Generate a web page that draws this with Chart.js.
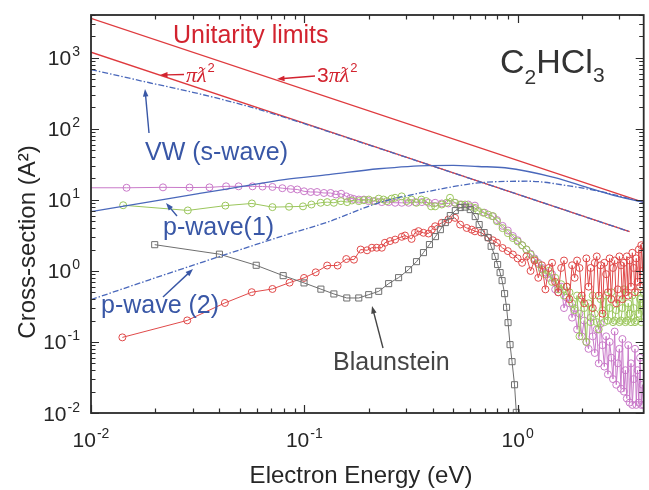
<!DOCTYPE html>
<html>
<head>
<meta charset="utf-8">
<script src="https://cdn.jsdelivr.net/npm/chart.js@4.4.1/dist/chart.umd.min.js"></script>
<style>
  body { margin: 0; background: #fff; }
  #wrap { width: 649px; height: 490px; }
</style>
</head>
<body>
<div id="wrap"><canvas id="xsChart" width="649" height="490"></canvas></div>
<script>
// axis ranges and tick labels
const xRange = [0.01, 3.9];
const yRange = [0.01, 4000];
const xDecades = [0.01, 0.1, 1];
const xTickExp = ['-2', '-1', '0'];
const yDecades = [0.01, 0.1, 1, 10, 100, 1000];
const yTickExp = ['-2', '-1', '0', '1', '2', '3'];

// unitarity limits
const piLambdaE = [0.01, 3.35];
const piLambdaS = [1197, 3.57];
const threePiLambdaE = [0.01, 3.9];
const threePiLambdaS = [3591, 9.2];

// VW (s-wave), dash-dot
const vwE = [0.01, 0.0188, 0.03, 0.0552, 0.1, 0.2, 0.5, 1, 2, 3.35];
const vwS = [684, 445, 327, 205, 118, 59.5, 23.9, 12.0, 5.98, 3.57];

// p-wave(1), solid blue
const pw1E = [0.01, 0.0188, 0.0323, 0.0496, 0.0804, 0.1304, 0.2232, 0.382, 0.5, 0.653, 0.873, 1.495, 2.13, 2.94, 3.89];
const pw1S = [6.84, 9.4, 12.3, 15.2, 19.3, 22.7, 27.4, 30.4, 30.5, 29.5, 28.3, 20.6, 14.9, 11.2, 9.25];

// p-wave (2), dash-dot blue
const pw2E = [0.01, 0.0188, 0.0323, 0.0804, 0.1304, 0.2232, 0.425, 0.653, 1.118, 1.775, 2.56, 3.89];
const pw2S = [0.394, 0.75, 1.29, 3.15, 4.94, 9.08, 14.0, 17.3, 18.3, 15.6, 12.7, 9.25];

// measured sets, low-energy part
const magentaE = [0.0085, 0.01468, 0.02175, 0.02897, 0.03592, 0.04298, 0.0492, 0.0572, 0.0637, 0.0709, 0.0789,
  0.0864, 0.0927, 0.0997, 0.1072, 0.1147, 0.1236, 0.1328, 0.1406, 0.1488, 0.1573, 0.1644, 0.1702, 0.18,
  0.1903, 0.2004, 0.2149, 0.2308, 0.2485, 0.2666, 0.2863, 0.3081, 0.3311, 0.3557, 0.382, 0.4105, 0.4411,
  0.4735, 0.5088, 0.5465, 0.587, 0.6307, 0.70, 0.76];
const magentaS = [14.8, 14.8, 15.0, 14.9, 15.0, 15.5, 15.5, 15.5, 15.4, 15.2, 14.6,
  14.2, 14.0, 13.2, 12.9, 12.9, 12.5, 12.5, 11.9, 12.2, 11.2, 10.6, 10.3, 10.1,
  10.1, 9.6, 9.6, 9.3, 9.3, 9.1, 9.1, 9.1, 9.3, 9.3, 9.1, 9.1, 8.9,
  8.9, 9.1, 8.6, 8.6, 8.3, 6.6, 5.9];

const greenE = [0.01415, 0.02844, 0.04266, 0.0568, 0.0709, 0.0848, 0.0986, 0.108, 0.1193, 0.128, 0.1376,
  0.1485, 0.1587, 0.1672, 0.18, 0.1903, 0.2004, 0.211, 0.2232, 0.2352, 0.2435, 0.2567, 0.2663, 0.2861,
  0.3017, 0.318, 0.3354, 0.3536, 0.3728, 0.393, 0.4105, 0.4411, 0.465, 0.4819, 0.5088, 0.5377, 0.5669,
  0.5976, 0.6307, 0.6536, 0.6888, 0.7277, 0.7669];
const greenS = [8.4, 7.1, 8.3, 8.9, 7.9, 8.0, 8.1, 8.6, 9.1, 9.3, 9.1,
  9.6, 9.3, 9.8, 9.6, 9.9, 10.1, 9.6, 10.4, 10.1, 9.6, 10.4, 10.7, 11.2,
  9.6, 10.1, 9.1, 10.1, 9.6, 8.1, 8.1, 8.6, 9.1, 10.7, 9.1, 8.6, 8.6,
  8.1, 7.7, 7.0, 6.6, 6.2, 5.9];

const redE = [0.01403, 0.02826, 0.04242, 0.0567, 0.0709, 0.0853, 0.0997, 0.1131, 0.128, 0.1433, 0.1573,
  0.1709, 0.1837, 0.1969, 0.2074, 0.2186, 0.2308, 0.2388, 0.2523, 0.2666, 0.2863, 0.2966, 0.3183, 0.3301,
  0.343, 0.3619, 0.382, 0.3961, 0.4105, 0.4411, 0.4735, 0.5088, 0.5377, 0.5773, 0.6093, 0.6307, 0.6754,
  0.7277, 0.765];
const redS = [0.116, 0.201, 0.354, 0.502, 0.557, 0.684, 0.796, 0.955, 1.19, 1.19, 1.47,
  1.44, 2.0, 1.95, 2.12, 2.12, 2.12, 2.49, 2.63, 2.76, 3.02, 3.15, 2.82, 3.44,
  3.63, 3.44, 3.36, 3.81, 4.25, 4.75, 5.28, 5.58, 4.49, 4.02, 3.81, 3.61, 3.46,
  2.94, 2.7];

// measured sets, high-energy part (shared energy grid)
const hiE = [0.80, 0.85, 0.90, 0.95, 1.00, 1.05, 1.10, 1.15, 1.20, 1.25, 1.30, 1.35, 1.40, 1.45, 1.50,
  1.55, 1.60, 1.65, 1.70, 1.75, 1.80, 1.85, 1.90, 1.95, 2.00, 2.05, 2.10, 2.15, 2.20, 2.25, 2.30,
  2.35, 2.40, 2.45, 2.50, 2.55, 2.60, 2.65, 2.70, 2.75, 2.80, 2.85, 2.90, 2.95, 3.00, 3.05, 3.10,
  3.15, 3.20, 3.25, 3.30, 3.35, 3.40, 3.45, 3.50, 3.55, 3.60, 3.65, 3.70, 3.75, 3.80, 3.85, 3.90];
const magentaHiS = [5.2, 4.3, 3.7, 3.1, 2.7, 2.3, 2.0, 1.75, 1.5, 1.3, 1.1, 0.95, 0.8, 0.9, 0.55,
  0.5, 0.6, 0.3, 0.42, 0.35, 0.22, 0.3, 0.15, 0.25, 0.12, 0.2, 0.1, 0.08, 0.22, 0.12, 0.07,
  0.15, 0.05, 0.18, 0.09, 0.045, 0.12, 0.035, 0.1, 0.06, 0.03, 0.14, 0.025, 0.05, 0.08, 0.022, 0.11,
  0.02, 0.04, 0.016, 0.09, 0.014, 0.05, 0.013, 0.03, 0.08, 0.013, 0.04, 0.014, 0.06, 0.013, 0.025, 0.013];
const greenHiS = [5.0, 4.0, 3.4, 2.9, 2.6, 2.3, 2.0, 1.7, 1.45, 1.25, 1.05, 0.9, 1.0, 0.7, 0.8,
  0.55, 0.65, 0.45, 0.6, 0.5, 0.35, 0.28, 0.45, 0.12, 0.4, 0.3, 0.1, 0.35, 0.19, 0.45, 0.25,
  0.19, 0.15, 0.4, 0.28, 0.19, 0.45, 0.2, 0.3, 0.5, 0.19, 0.2, 0.28, 0.4, 0.19, 0.2, 0.3,
  0.55, 0.19, 0.2, 0.35, 0.25, 0.19, 0.45, 0.3, 0.19, 0.2, 0.5, 0.25, 0.4, 0.19, 0.35, 0.5];
const redHiS = [2.5, 2.1, 1.9, 1.7, 1.5, 1.3, 1.6, 1.0, 1.4, 0.8, 1.2, 0.55, 1.1, 1.3, 0.7,
  0.5, 1.1, 1.4, 0.6, 0.4, 1.2, 0.8, 1.4, 1.1, 0.45, 0.35, 1.5, 0.6, 1.1, 0.3, 1.3,
  1.6, 0.45, 1.2, 0.25, 1.3, 0.9, 0.5, 1.5, 0.4, 1.1, 1.4, 0.35, 0.55, 1.6, 1.2, 0.4,
  1.3, 0.5, 1.6, 0.45, 1.4, 0.6, 1.8, 1.1, 0.5, 1.5, 0.7, 2.0, 0.6, 2.3, 1.0, 2.2];

// Blaunstein
const blaunE = [0.01989, 0.04, 0.0595, 0.0796, 0.0997, 0.1196, 0.1376, 0.1582, 0.18, 0.2004, 0.2232,
  0.2485, 0.2767, 0.3081, 0.3357, 0.3619, 0.386, 0.4118, 0.4344, 0.4583, 0.4836, 0.5104, 0.5385,
  0.5682, 0.5996, 0.6327, 0.6603, 0.6968, 0.7277, 0.7514, 0.7843, 0.8058, 0.8278, 0.8457, 0.8688,
  0.8875, 0.902, 0.9215, 0.9416, 0.9672, 0.986];
const blaunS = [2.34, 1.72, 1.20, 0.858, 0.678, 0.554, 0.474, 0.416, 0.416, 0.463, 0.516,
  0.662, 0.804, 1.04, 1.35, 1.81, 2.35, 3.04, 3.81, 4.79, 6.01, 7.06, 7.79,
  7.91, 7.30, 5.82, 4.49, 3.46, 2.94, 2.22, 1.60, 1.23, 0.946, 0.730, 0.479,
  0.307, 0.187, 0.0916, 0.0528, 0.025, 0.0102];

const redLine = '#df3b3f';
const blueLine = '#4a68bb';
const magentaColor = '#c97ac9';
const greenColor = '#9bc65c';
const redColor = '#e04a4a';
const grayColor = '#6f6f6f';
const sansFont = '"Liberation Sans", Arial, sans-serif';
const serifFont = '"Liberation Serif", "DejaVu Serif", serif';

function toPoints(xs, ys) {
  const n = Math.min(xs.length, ys.length);
  const pts = [];
  for (let i = 0; i < n; i++) pts.push({ x: xs[i], y: ys[i] });
  return pts;
}

function theoryLine(xs, ys, color, dash, order) {
  return {
    data: toPoints(xs, ys),
    showLine: true,
    borderColor: color,
    borderWidth: 1.3,
    borderDash: dash,
    pointRadius: 0,
    cubicInterpolationMode: 'monotone',
    order: order,
  };
}

function measured(xs, ys, color, style, radius, order) {
  return {
    data: toPoints(xs, ys),
    showLine: true,
    borderColor: color,
    borderWidth: 1,
    pointStyle: style,
    pointRadius: radius,
    pointBorderWidth: 1,
    pointBorderColor: color,
    pointBackgroundColor: 'rgba(255,255,255,0)',
    order: order,
  };
}

function drawArrow(ctx, x1, y1, x2, y2, color) {
  const ang = Math.atan2(y2 - y1, x2 - x1);
  const head = 8;
  ctx.strokeStyle = color;
  ctx.fillStyle = color;
  ctx.lineWidth = 1.4;
  ctx.beginPath();
  ctx.moveTo(x1, y1);
  ctx.lineTo(x2 - Math.cos(ang) * head * 0.8, y2 - Math.sin(ang) * head * 0.8);
  ctx.stroke();
  ctx.beginPath();
  ctx.moveTo(x2, y2);
  ctx.lineTo(x2 - head * Math.cos(ang - 0.35), y2 - head * Math.sin(ang - 0.35));
  ctx.lineTo(x2 - head * Math.cos(ang + 0.35), y2 - head * Math.sin(ang + 0.35));
  ctx.closePath();
  ctx.fill();
}

function drawPower(ctx, exp, x, y, align) {
  ctx.font = '21px ' + sansFont;
  const wb = ctx.measureText('10').width;
  ctx.font = '14px ' + sansFont;
  const we = ctx.measureText(exp).width;
  const total = wb + we + 1;
  const left = align === 'center' ? x - total / 2 : x - total;
  ctx.textAlign = 'left';
  ctx.font = '21px ' + sansFont;
  ctx.fillText('10', left, y);
  ctx.font = '14px ' + sansFont;
  ctx.fillText(exp, left + wb + 1, y - 9);
}

function lambdaLabel(ctx, prefix, x, y) {
  let cx = x;
  ctx.textAlign = 'left';
  if (prefix) {
    ctx.font = '21px ' + sansFont;
    ctx.fillText(prefix, cx, y);
    cx += ctx.measureText(prefix).width;
  }
  ctx.font = 'italic 22px ' + serifFont;
  ctx.fillText('\u03c0\u019b', cx, y);
  cx += ctx.measureText('\u03c0\u019b').width;
  ctx.font = '13px ' + sansFont;
  ctx.fillText('2', cx + 1, y - 10);
}

function minorValues(decades, max) {
  const out = [];
  decades.forEach((d) => {
    for (let k = 2; k <= 9; k++) if (d * k <= max) out.push(d * k);
  });
  const top = decades[decades.length - 1] * 10;
  for (let k = 2; k <= 9; k++) if (top * k <= max) out.push(top * k);
  return out;
}

const axisDecor = {
  id: 'axisDecor',
  afterDatasetsDraw(chart) {
    const { ctx, chartArea: a, scales } = chart;
    const xs = scales.x;
    const ys = scales.y;
    ctx.save();
    ctx.strokeStyle = '#2b2b2b';
    ctx.fillStyle = '#2b2b2b';

    // ticks on all four sides, pointing inward
    ctx.lineWidth = 1.2;
    const xTicks = xDecades.map((v) => [v, 8]).concat(minorValues(xDecades, xRange[1]).map((v) => [v, 4.5]));
    xTicks.forEach(([v, len]) => {
      const px = Math.round(xs.getPixelForValue(v)) + 0.5;
      ctx.beginPath();
      ctx.moveTo(px, a.bottom); ctx.lineTo(px, a.bottom - len);
      ctx.moveTo(px, a.top); ctx.lineTo(px, a.top + len);
      ctx.stroke();
    });
    const yTicks = yDecades.map((v) => [v, 8]).concat(minorValues(yDecades.slice(0, -1), yRange[1]).map((v) => [v, 4.5]));
    yTicks.forEach(([v, len]) => {
      const py = Math.round(ys.getPixelForValue(v)) + 0.5;
      ctx.beginPath();
      ctx.moveTo(a.left, py); ctx.lineTo(a.left + len, py);
      ctx.moveTo(a.right, py); ctx.lineTo(a.right - len, py);
      ctx.stroke();
    });

    // frame
    ctx.lineWidth = 1.8;
    ctx.strokeRect(a.left, a.top, a.right - a.left, a.bottom - a.top);

    // tick labels
    ctx.fillStyle = '#262626';
    xDecades.forEach((v, i) => drawPower(ctx, xTickExp[i], xs.getPixelForValue(v), 447, 'center'));
    yDecades.forEach((v, i) => drawPower(ctx, yTickExp[i], 80, ys.getPixelForValue(v) + 7.5, 'right'));

    // axis titles
    ctx.font = '24px ' + sansFont;
    ctx.textAlign = 'center';
    ctx.fillText('Electron Energy (eV)', 361, 483);
    ctx.save();
    ctx.translate(35, 242);
    ctx.rotate(-Math.PI / 2);
    ctx.fillText('Cross-section (A\u00b2)', 0, 0);
    ctx.restore();

    // molecule
    ctx.fillStyle = '#333';
    ctx.textAlign = 'left';
    let cx = 500;
    [['C', 34, 73], ['2', 21, 84], ['HCl', 34, 73], ['3', 21, 82]].forEach(([t, size, base]) => {
      ctx.font = size + 'px ' + sansFont;
      ctx.fillText(t, cx, base);
      cx += ctx.measureText(t).width;
    });

    // unitarity annotations
    ctx.fillStyle = '#d2232f';
    ctx.font = '25px ' + sansFont;
    ctx.fillText('Unitarity limits', 173, 43);
    lambdaLabel(ctx, '', 186, 82);
    lambdaLabel(ctx, '3', 317, 82);
    drawArrow(ctx, 184, 74.5, 160, 75, '#d2232f');
    drawArrow(ctx, 315, 76, 277, 79, '#d2232f');

    // curve labels
    ctx.fillStyle = '#3957a6';
    ctx.font = '25px ' + sansFont;
    ctx.fillText('VW (s-wave)', 145, 160);
    ctx.fillText('p-wave(1)', 163, 235);
    ctx.fillText('p-wave (2)', 101, 313);
    drawArrow(ctx, 149, 133, 145, 89, '#3957a6');
    drawArrow(ctx, 177, 216, 166, 203, '#3957a6');
    drawArrow(ctx, 163, 297, 193, 269, '#3957a6');

    ctx.fillStyle = '#454545';
    ctx.fillText('Blaunstein', 333, 370);
    drawArrow(ctx, 383, 348, 372, 306, '#454545');

    ctx.restore();
  },
};

const datasets = [
  theoryLine(threePiLambdaE, threePiLambdaS, redLine, [], 2),
  theoryLine(piLambdaE, piLambdaS, redLine, [], 2),
  theoryLine(vwE, vwS, blueLine, [6, 2, 1.5, 2], 1),
  theoryLine(pw1E, pw1S, blueLine, [], 1),
  theoryLine(pw2E, pw2S, blueLine, [6, 2, 1.5, 2], 1),
  measured(magentaE.concat(hiE), magentaS.concat(magentaHiS), magentaColor, 'circle', 3.5, 6),
  measured(greenE.concat(hiE), greenS.concat(greenHiS), greenColor, 'circle', 3.5, 5),
  measured(redE.concat(hiE), redS.concat(redHiS), redColor, 'circle', 3.5, 4),
  measured(blaunE, blaunS, grayColor, 'rect', 4.3, 3),
];

new Chart(document.getElementById('xsChart'), {
  type: 'scatter',
  data: { datasets },
  options: {
    responsive: false,
    animation: false,
    devicePixelRatio: 1,
    layout: { padding: { left: 91, right: 3, top: 15, bottom: 77 } },
    plugins: { legend: { display: false }, tooltip: { enabled: false } },
    scales: {
      x: { type: 'logarithmic', min: xRange[0], max: xRange[1], display: false },
      y: { type: 'logarithmic', min: yRange[0], max: yRange[1], display: false },
    },
  },
  plugins: [axisDecor],
});
</script>
</body>
</html>
